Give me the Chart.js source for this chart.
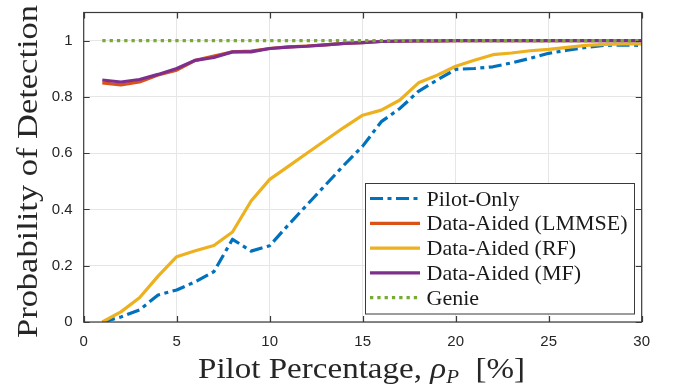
<!DOCTYPE html>
<html>
<head>
<meta charset="utf-8">
<script src="https://cdn.jsdelivr.net/npm/chart.js@4/dist/chart.umd.min.js"></script>
<style>
  html, body { margin: 0; padding: 0; background: #fff; }
  #chart { display: block; }
</style>
</head>
<body>
<canvas id="chart" width="675" height="391"></canvas>
<script>
// --- data ---
const pilotPct = [1, 2, 3, 4, 5, 6, 7, 8, 9, 10, 11, 12, 13, 14, 15,
                  16, 17, 18, 19, 20, 21, 22, 23, 24, 25, 26, 27, 28, 29, 30];

const pilotOnly = [0.000, 0.018, 0.043, 0.096, 0.114, 0.143, 0.179, 0.294, 0.252, 0.271,
                   0.345, 0.416, 0.487, 0.558, 0.625, 0.712, 0.759, 0.820, 0.860, 0.898,
                   0.901, 0.907, 0.921, 0.937, 0.955, 0.966, 0.976, 0.983, 0.985, 0.983];
const dataAidedLmmse = [0.850, 0.843, 0.853, 0.878, 0.895, 0.930, 0.945, 0.960, 0.963, 0.972,
                        0.978, 0.981, 0.985, 0.990, 0.993, 0.997, 0.998, 0.999, 0.999, 1.000,
                        1.000, 1.000, 1.000, 1.000, 1.000, 1.000, 1.000, 1.000, 1.000, 1.000];
const dataAidedRf = [0.000, 0.036, 0.086, 0.163, 0.232, 0.253, 0.272, 0.320, 0.430, 0.507,
                     0.553, 0.600, 0.646, 0.692, 0.735, 0.753, 0.789, 0.850, 0.877, 0.909,
                     0.930, 0.950, 0.956, 0.964, 0.969, 0.976, 0.983, 0.987, 0.988, 0.988];
const dataAidedMf = [0.860, 0.853, 0.862, 0.880, 0.901, 0.930, 0.940, 0.960, 0.960, 0.972,
                     0.977, 0.980, 0.985, 0.990, 0.993, 0.997, 0.998, 0.999, 0.999, 1.000,
                     1.000, 1.000, 1.000, 1.000, 1.000, 1.000, 1.000, 1.000, 1.000, 1.000];
const genie = [1, 1, 1, 1, 1, 1, 1, 1, 1, 1, 1, 1, 1, 1, 1,
               1, 1, 1, 1, 1, 1, 1, 1, 1, 1, 1, 1, 1, 1, 1];

const xTicks = [0, 5, 10, 15, 20, 25, 30];
const yTicks = [0, 0.2, 0.4, 0.6, 0.8, 1];

const SERIF = '"Liberation Serif", "DejaVu Serif", serif';
const SANS = '"Liberation Sans", Arial, sans-serif';
const AXIS_COLOR = '#3a3a3a';

const toPoints = ys => pilotPct.map((x, i) => ({ x: x, y: ys[i] }));

// draw text squeezed/stretched to a target width (LaTeX CM is wider than Times)
function fillTextWidth(ctx, text, x, y, width) {
    const w = ctx.measureText(text).width;
    ctx.save();
    ctx.translate(x, y);
    ctx.scale(width / w, 1);
    ctx.fillText(text, 0, 0);
    ctx.restore();
}

// MATLAB-style box, inward ticks, legend and LaTeX-ish axis labels
const matlabDecor = {
    id: 'matlabDecor',
    afterDatasetsDraw(chart) {
        const { ctx, chartArea: a, scales } = chart;
        ctx.save();
        ctx.strokeStyle = AXIS_COLOR;
        ctx.lineWidth = 1.2;
        ctx.strokeRect(a.left, a.top, a.right - a.left, a.bottom - a.top);
        ctx.beginPath();
        xTicks.forEach(v => {
            const px = Math.round(scales.x.getPixelForValue(v)) + 0.5;
            ctx.moveTo(px, a.bottom); ctx.lineTo(px, a.bottom - 6);
            ctx.moveTo(px, a.top); ctx.lineTo(px, a.top + 6);
        });
        yTicks.forEach(v => {
            const py = Math.round(scales.y.getPixelForValue(v)) + 0.5;
            ctx.moveTo(a.left, py); ctx.lineTo(a.left + 6, py);
            ctx.moveTo(a.right, py); ctx.lineTo(a.right - 6, py);
        });
        ctx.stroke();
        ctx.restore();
    },
    afterDraw(chart) {
        const ctx = chart.ctx;
        ctx.save();

        // legend
        const box = { x: 365.5, y: 183.5, w: 269, h: 130.5 };
        ctx.fillStyle = '#ffffff';
        ctx.fillRect(box.x, box.y, box.w, box.h);
        ctx.strokeStyle = AXIS_COLOR;
        ctx.lineWidth = 1;
        ctx.strokeRect(box.x, box.y, box.w, box.h);

        ctx.font = '21px ' + SERIF;
        ctx.fillStyle = '#1a1a1a';
        ctx.textBaseline = 'alphabetic';
        ctx.textAlign = 'left';
        const stretch = 201 / ctx.measureText('Data-Aided (LMMSE)').width;
        chart.data.datasets.forEach((ds, i) => {
            const ly = 198.5 + i * 24.8;
            ctx.save();
            ctx.strokeStyle = ds.borderColor;
            ctx.lineWidth = ds.borderWidth;
            ctx.setLineDash(ds.borderDash || []);
            ctx.beginPath();
            ctx.moveTo(370, ly);
            ctx.lineTo(420, ly);
            ctx.stroke();
            ctx.restore();
            const w = ctx.measureText(ds.label).width * stretch;
            fillTextWidth(ctx, ds.label, 426.5, ly + 7, w);
        });

        // y axis title
        ctx.font = '30px ' + SERIF;
        ctx.fillStyle = '#262626';
        ctx.save();
        ctx.translate(36.7, 338);
        ctx.rotate(-Math.PI / 2);
        fillTextWidth(ctx, 'Probability of Detection', 0, 0, 333);
        ctx.restore();

        // x axis title with subscript
        const parts = [
            { t: 'Pilot Percentage, ', f: '30px ' + SERIF, dy: 0 },
            { t: 'ρ', f: 'italic 30px ' + SERIF, dy: 0 },
            { t: 'P', f: 'italic 19px ' + SERIF, dy: 5 },
            { t: '  [%]', f: '30px ' + SERIF, dy: 0 }
        ];
        let natural = 0;
        parts.forEach(p => { ctx.font = p.f; p.w = ctx.measureText(p.t).width; natural += p.w; });
        const sx = 327 / natural;
        ctx.save();
        ctx.translate(198, 377.5);
        ctx.scale(sx, 1);
        let cx = 0;
        parts.forEach(p => {
            ctx.font = p.f;
            ctx.fillText(p.t, cx, p.dy);
            cx += p.w;
        });
        ctx.restore();

        ctx.restore();
    }
};

const ctx = document.getElementById('chart').getContext('2d');
const chart = new Chart(ctx, {
    type: 'line',
    data: {
        datasets: [
            { label: 'Pilot-Only', data: toPoints(pilotOnly), borderColor: '#0072BD',
              borderWidth: 3.2, borderDash: [13, 4.5, 4, 4.5], order: 4 },
            { label: 'Data-Aided (LMMSE)', data: toPoints(dataAidedLmmse), borderColor: '#D95319',
              borderWidth: 3.2, order: 3 },
            { label: 'Data-Aided (RF)', data: toPoints(dataAidedRf), borderColor: '#EDB120',
              borderWidth: 3.2, order: 2 },
            { label: 'Data-Aided (MF)', data: toPoints(dataAidedMf), borderColor: '#7E2F8E',
              borderWidth: 3.2, order: 1 },
            { label: 'Genie', data: toPoints(genie), borderColor: '#77AC30',
              borderWidth: 3.3, borderDash: [3.3, 4], order: 0 }
        ]
    },
    options: {
        responsive: false,
        animation: false,
        devicePixelRatio: 1,
        layout: { padding: { left: 0, right: 33.3, top: 12.5, bottom: 0 } },
        elements: {
            point: { radius: 0 },
            line: { tension: 0, borderCapStyle: 'butt', borderJoinStyle: 'round', fill: false }
        },
        plugins: {
            legend: { display: false },
            tooltip: { enabled: false }
        },
        scales: {
            x: {
                type: 'linear',
                min: 0,
                max: 30,
                afterBuildTicks: s => { s.ticks = xTicks.map(v => ({ value: v })); },
                afterFit: s => { s.height = 69; s.paddingLeft = 0; s.paddingRight = 0; },
                ticks: {
                    color: '#262626',
                    font: { family: SANS, size: 15 },
                    padding: 11,
                    maxRotation: 0,
                    callback: v => String(v)
                },
                grid: { color: '#e6e6e6', lineWidth: 1, drawTicks: false },
                border: { display: false }
            },
            y: {
                type: 'linear',
                min: 0,
                max: 1.1,
                afterBuildTicks: s => { s.ticks = yTicks.map(v => ({ value: v })); },
                afterFit: s => { s.width = 83.7; s.paddingTop = 0; s.paddingBottom = 0; },
                ticks: {
                    color: '#262626',
                    font: { family: SANS, size: 15 },
                    padding: 11,
                    callback: v => String(Math.round(v * 10) / 10)
                },
                grid: { color: '#e6e6e6', lineWidth: 1, drawTicks: false },
                border: { display: false }
            }
        }
    },
    plugins: [matlabDecor]
});
</script>
</body>
</html>
